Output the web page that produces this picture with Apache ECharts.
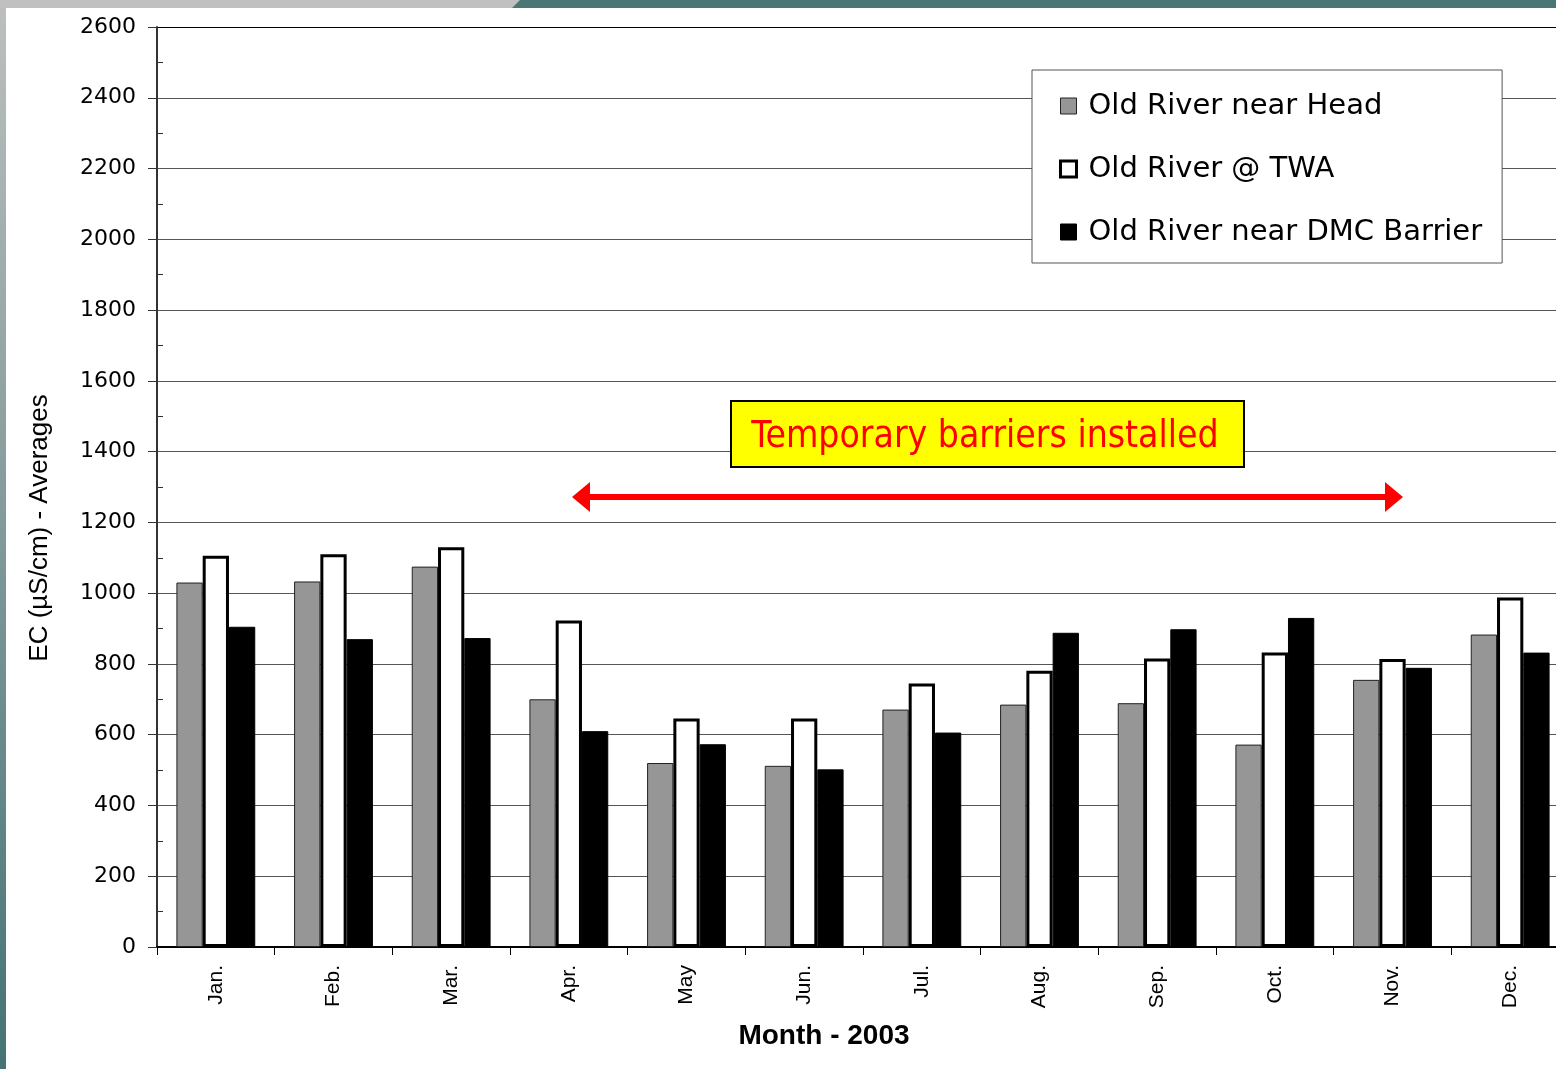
<!DOCTYPE html>
<html>
<head>
<meta charset="utf-8">
<script src="https://cdn.jsdelivr.net/npm/echarts@6/dist/echarts.min.js"></script>
<style>
  html, body { margin: 0; padding: 0; background: #fff; }
  #box { width: 1556px; height: 1069px; }
</style>
</head>
<body>
<div id="box"></div>
<script>
// monthly EC averages, 2003
var months = ['Jan.', 'Feb.', 'Mar.', 'Apr.', 'May', 'Jun.', 'Jul.', 'Aug.', 'Sep.', 'Oct.', 'Nov.', 'Dec.'];
var headEC = [1030, 1033, 1075, 700, 520, 512, 671, 685, 689, 572, 755, 883];
var twaEC = [1106, 1110, 1130, 923, 646, 646, 745, 781, 815, 832, 814, 988];
var dmcEC = [905, 870, 873, 610, 573, 502, 606, 888, 898, 930, 789, 832];
var names = ['Old River near Head', 'Old River @ TWA', 'Old River near DMC Barrier'];

var font = '"Liberation Sans", Arial, sans-serif';
var wideFont = '"DejaVu Sans", "Liberation Sans", sans-serif';

// grid line colours: gray, top one black
var gridColors = [];
for (var i = 0; i < 13; i++) gridColors.push('#555');
gridColors.push('#000');

var styles = [
  { color: '#969696', borderColor: '#222', borderWidth: 1 },
  { color: '#ffffff', borderColor: '#000', borderWidth: 3 },
  { color: '#000000', borderColor: '#000', borderWidth: 1 }
];
var values = [headEC, twaEC, dmcEC];

var series = [];
for (var s = 0; s < 3; s++) {
  series.push({
    name: names[s],
    type: 'bar',
    data: values[s],
    barGap: '0%',
    barCategoryGap: '33%',
    itemStyle: styles[s],
    emphasis: { disabled: true }
  });
}

var myChart = echarts.init(document.getElementById('box'));
var option = {
  animation: false,
  backgroundColor: '#fff',
  title: {
    text: 'Month - 2003',
    left: 824,
    top: 1022,
    textAlign: 'center',
    padding: 0,
    textStyle: { fontFamily: font, fontSize: 28, fontWeight: 'bold', color: '#000' }
  },
  legend: {
    orient: 'vertical',
    left: 1032,
    top: 70,
    padding: [21, 20, 16, 27],
    itemGap: 33,
    itemWidth: 16,
    itemHeight: 16,
    icon: 'rect',
    backgroundColor: '#fff',
    borderColor: '#555',
    borderWidth: 1,
    borderRadius: 0,
    selectedMode: false,
    textStyle: { fontFamily: wideFont, fontSize: 29, color: '#000', lineHeight: 30, padding: [0, 0, 0, 7] },
    data: [
      { name: names[0], itemStyle: { color: '#969696', borderColor: '#222', borderWidth: 1 } },
      { name: names[1], itemStyle: { color: '#fff', borderColor: '#000', borderWidth: 3 } },
      { name: names[2], itemStyle: { color: '#000', borderColor: '#000', borderWidth: 1 } }
    ]
  },
  grid: {
    left: 157,
    top: 27,
    width: 1412,
    bottom: 122,
    outerBoundsMode: 'none',
    containLabel: false
  },
  xAxis: {
    type: 'category',
    data: months,
    axisLine: { lineStyle: { color: '#000', width: 2 } },
    axisTick: { show: true, length: 8, lineStyle: { color: '#000', width: 1 } },
    axisLabel: {
      interval: 0,
      rotate: 90,
      margin: 18,
      fontFamily: font,
      fontSize: 21,
      color: '#000'
    },
    splitLine: { show: false }
  },
  yAxis: {
    type: 'value',
    min: 0,
    max: 2600,
    interval: 200,
    axisLine: { show: true, lineStyle: { color: '#333', width: 2 } },
    axisTick: { show: true, length: 9, lineStyle: { color: '#333', width: 1 } },
    minorTick: { show: true, splitNumber: 2, length: -6, lineStyle: { color: '#333', width: 1 } },
    axisLabel: {
      margin: 21, fontFamily: wideFont, fontSize: 22, color: '#000',
      formatter: function (v) { return String(v); }
    },
    splitLine: { show: true, lineStyle: { color: gridColors, width: 1 } }
  },
  graphic: [
    // slide decoration
    { type: 'rect', z: 1, shape: { x: 0, y: 0, width: 1556, height: 8 }, style: { fill: '#4a7676' } },
    { type: 'polygon', z: 2, shape: { points: [[0, 0], [520, 0], [512, 8], [0, 8]] }, style: { fill: '#c0c0c0' } },
    {
      type: 'rect', z: 1, shape: { x: 0, y: 8, width: 6, height: 1061 },
      style: {
        fill: new echarts.graphic.LinearGradient(0, 0, 0, 1, [
          { offset: 0, color: '#bcbfbf' },
          { offset: 1, color: '#457373' }
        ])
      }
    },
    // y axis title
    {
      type: 'text', x: 40, y: 528, rotation: Math.PI / 2, z: 10,
      style: { text: 'EC (µS/cm) - Averages', fontFamily: font, fontSize: 26, fill: '#000', align: 'center', verticalAlign: 'middle' }
    },
    // annotation box
    {
      type: 'rect', z: 100, shape: { x: 731, y: 401, width: 513, height: 66 },
      style: { fill: '#ffff00', stroke: '#000', lineWidth: 2 }
    },
    {
      type: 'text', z: 101, x: 985, y: 437,
      style: {
        text: 'Temporary barriers installed',
        fontFamily: '"DejaVu Sans Condensed", "Liberation Sans Narrow", sans-serif',
        fontSize: 37, fill: '#ff0000', align: 'center', verticalAlign: 'middle'
      }
    },
    // double arrow
    { type: 'line', z: 100, shape: { x1: 586, y1: 497, x2: 1389, y2: 497 }, style: { stroke: '#ff0000', lineWidth: 6 } },
    { type: 'polygon', z: 100, shape: { points: [[572, 497], [590, 482], [590, 512]] }, style: { fill: '#ff0000' } },
    { type: 'polygon', z: 100, shape: { points: [[1403, 497], [1385, 482], [1385, 512]] }, style: { fill: '#ff0000' } }
  ],
  series: series
};
myChart.setOption(option);
</script>
</body>
</html>
